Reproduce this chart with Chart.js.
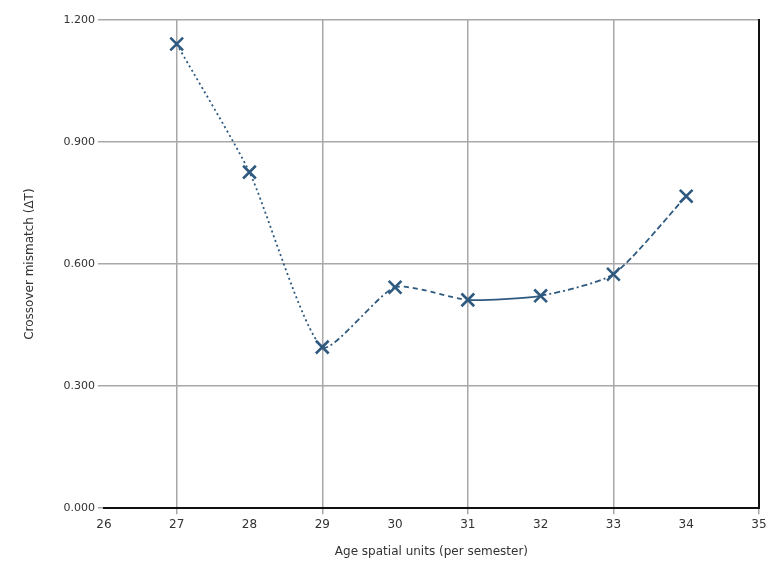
<!DOCTYPE html>
<html>
<head>
<meta charset="utf-8">
<script src="https://cdn.jsdelivr.net/npm/chart.js@4.4.1/dist/chart.umd.min.js"></script>
<style>
  html, body { margin: 0; padding: 0; background: #fff; }
  #wrap { width: 781px; height: 575px; }
</style>
</head>
<body>
<div id="wrap"><canvas id="c"></canvas></div>
<script>
// values
const ages = [27, 28, 29, 30, 31, 32, 33, 34];
const mismatch = [1.141, 0.826, 0.396, 0.543, 0.512, 0.522, 0.575, 0.767];
// dash style of each segment between neighbouring points
const segDash = [[2, 3], [2, 3], [6, 3, 2, 3], [5, 4], [], [6, 3, 2, 3], [6, 3]];

const lineColor = '#2f5a80';

const ctx = document.getElementById('c').getContext('2d');
new Chart(ctx, {
  type: 'line',
  data: {
    datasets: [{
      data: ages.map((a, i) => ({ x: a, y: mismatch[i] })),
      borderColor: lineColor,
      backgroundColor: lineColor,
      borderWidth: 1.8,
      tension: 0.2,
      pointStyle: 'crossRot',
      pointRadius: 9,
      pointBorderWidth: 2.6,
      segment: {
        borderDash: (c) => segDash[c.p0DataIndex]
      }
    }]
  },
  options: {
    responsive: true,
    maintainAspectRatio: false,
    animation: false,
    layout: { padding: { top: 20, right: 22, left: 19, bottom: 12 } },
    plugins: { legend: { display: false }, tooltip: { enabled: false } },
    scales: {
      x: {
        type: 'linear',
        min: 26,
        max: 35,
        ticks: { stepSize: 1, color: '#333', font: { family: 'DejaVu Sans', size: 12 } },
        grid: {
          color: (c) => (c.tick && c.tick.value % 2 === 1) ? '#a8a8a8' : 'rgba(0,0,0,0)',
          lineWidth: 1.5,
          tickLength: 6
        },
        border: { color: '#111', width: 2 },
        title: { display: true, text: 'Age spatial units (per semester)', color: '#333', padding: { top: 10 }, font: { family: 'DejaVu Sans', size: 12 } }
      },
      y: {
        min: 0,
        max: 1.2,
        ticks: {
          stepSize: 0.3,
          color: '#333',
          font: { family: 'DejaVu Sans', size: 11 },
          callback: (v) => v.toFixed(3)
        },
        grid: { color: '#a8a8a8', lineWidth: 1.5, tickLength: 6 },
        border: { display: false },
        title: { display: true, text: 'Crossover mismatch (ΔT)', color: '#333', padding: { top: 4, bottom: 23 }, font: { family: 'DejaVu Sans', size: 12 } }
      },
      y2: {
        position: 'right',
        min: 0,
        max: 1.2,
        ticks: { display: false },
        grid: { display: false, drawTicks: false },
        border: { display: true, color: '#111', width: 2 }
      }
    }
  }
});
</script>
</body>
</html>
